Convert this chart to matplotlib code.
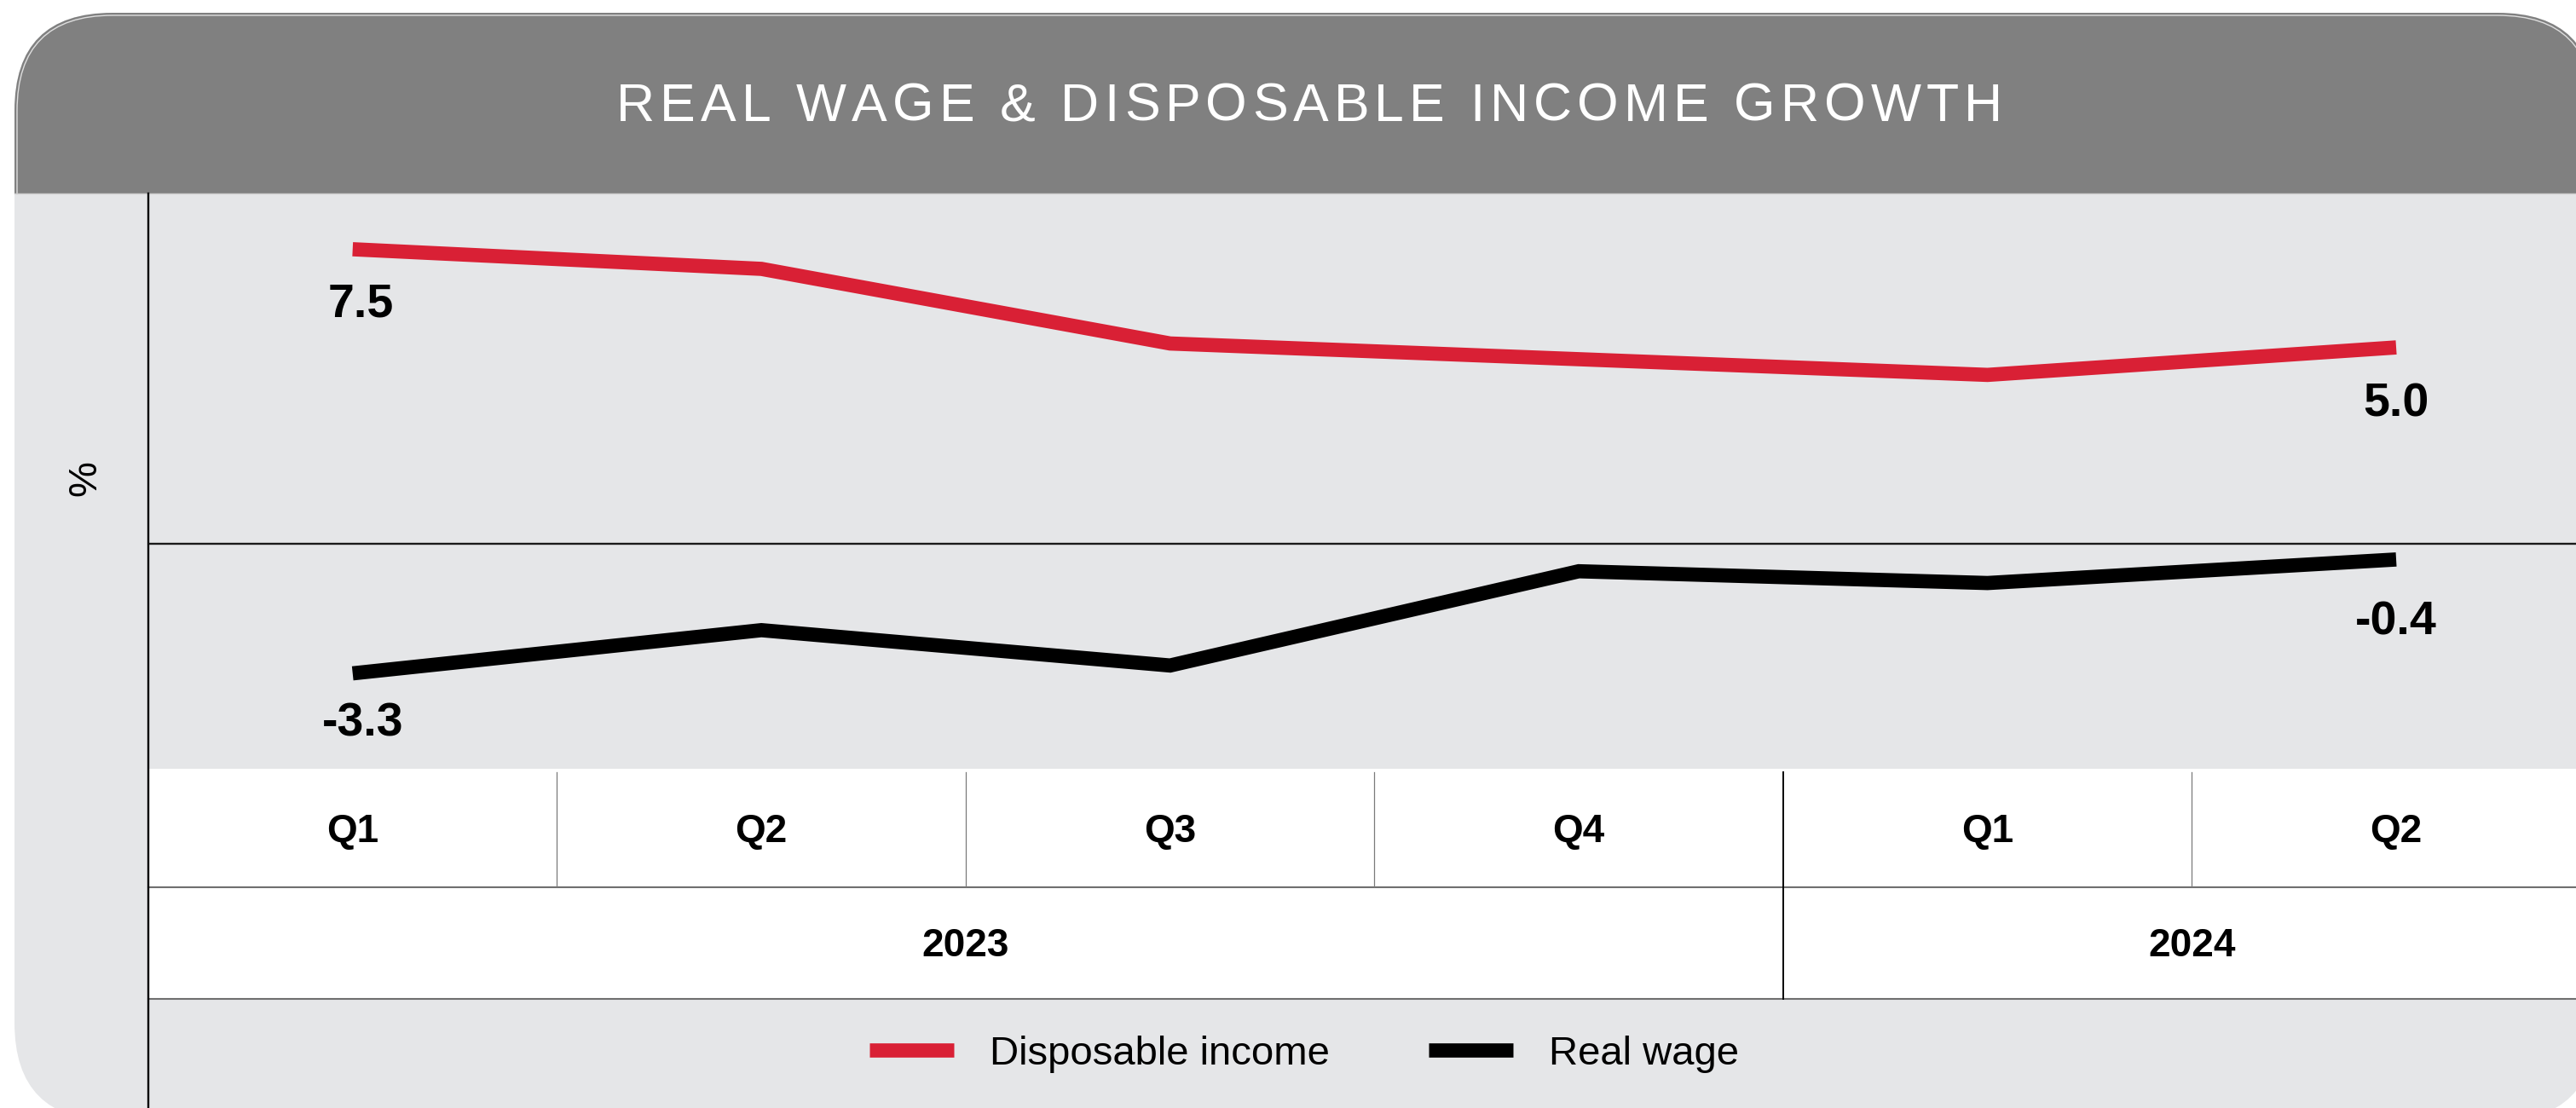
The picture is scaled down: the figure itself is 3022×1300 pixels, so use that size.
import numpy as np
import matplotlib
matplotlib.use("Agg")
import matplotlib.pyplot as plt
import matplotlib.transforms as mtransforms
from matplotlib.patches import FancyBboxPatch, Rectangle

# data
quarters = ["Q1", "Q2", "Q3", "Q4", "Q1", "Q2"]
years = ["2023", "2024"]
year_spans = [(0, 3), (4, 5)]
disposable_income = [7.5, 7.0, 5.1, 4.7, 4.3, 5.0]
real_wage = [-3.3, -2.2, -3.1, -0.7, -1.0, -0.4]
series_names = ["Disposable income", "Real wage"]
title = "REAL WAGE & DISPOSABLE INCOME GROWTH"
unit_label = "%"

W, H, DPI = 3022, 1300, 100
RED = "#d92035"
HEADER = "#808080"
PANEL = "#e5e6e8"

plt.rcParams["font.family"] = ["Liberation Sans", "DejaVu Sans"]

fig = plt.figure(figsize=(W / DPI, H / DPI), dpi=DPI)
fig.patch.set_facecolor("white")

# pixel canvas for the card, header band and category table
bg = fig.add_axes([0, 0, 1, 1])
bg.set_xlim(0, W)
bg.set_ylim(H, 0)
bg.set_axis_off()

card_box = dict(boxstyle="round,pad=0,rounding_size=115")
bg.add_patch(FancyBboxPatch((17, 15), 3028, 1300, fc=PANEL, ec="none", **card_box))
head_clip = Rectangle((0, 0), W, 227, transform=bg.transData)
header = FancyBboxPatch((17, 15), 3028, 1300, fc=HEADER, ec="none", **card_box)
bg.add_patch(header)
header.set_clip_path(head_clip)
rim = FancyBboxPatch((20, 18), 3022, 1294, fc="none", ec="#dedede", lw=1.0,
                     boxstyle="round,pad=0,rounding_size=112")
bg.add_patch(rim)
rim.set_clip_path(head_clip)
bg.plot([17, W], [227, 227], color="#cdcdcd", lw=1.0)

# table body under the plot
bg.add_patch(Rectangle((174, 902), W - 174, 270, fc="white", ec="none"))
for yy in (1041, 1172):
    bg.plot([174, W], [yy, yy], color="#6f6f6f", lw=1.5)

# main plot area
ax = fig.add_axes([174 / W, 1 - 902 / H, (W - 174) / W, (902 - 227) / H])
ax.set_xlim(-0.5, 5.44)
ax.set_ylim(-5.73, 8.92)
ax.set_axis_off()

x = np.arange(len(quarters))
ax.axhline(0, color="#1a1a1a", lw=1.7, zorder=1)
l1, = ax.plot(x, disposable_income, color=RED, lw=12, solid_capstyle="butt",
              solid_joinstyle="miter", label=series_names[0], zorder=3)
l2, = ax.plot(x, real_wage, color="black", lw=12, solid_capstyle="butt",
              solid_joinstyle="miter", label=series_names[1], zorder=3)

# end-point value labels (offsets in pixels, to the text baseline)
label_offsets = {
    (0, 0): (10, -79), (0, 5): (0, -81),
    (1, 0): (12, -73), (1, 5): (0, -88),
}
for (s, i), (dx, dy) in label_offsets.items():
    v = [disposable_income, real_wage][s][i]
    ax.annotate(f"{v:.1f}", (x[i], v), xytext=(dx, dy), textcoords="offset pixels",
                ha="center", va="baseline", fontsize=40, fontweight="bold")

# left axis line running down through the table
bg.plot([174, 174], [227, H], color="black", lw=1.7, zorder=5)

fig.text(100 / W, 1 - 561 / H, unit_label, rotation=90, fontsize=34,
         ha="center", va="center")

# category table: quarter row and year row, aligned to the data x scale
trans = mtransforms.blended_transform_factory(ax.transData, bg.transData)
for i, q in enumerate(quarters):
    bg.text(i, 988, q, transform=trans, ha="center", va="baseline",
            fontsize=33, fontweight="bold")
year_breaks = [e + 0.5 for _, e in year_spans[:-1]]
for b in np.arange(0.5, len(quarters) - 0.5):
    if b in year_breaks:
        continue
    bg.plot([b, b], [906, 1040], transform=trans, color="#7a7a7a", lw=0.9)
for b in year_breaks:
    bg.plot([b, b], [906, 1172], transform=trans, color="black", lw=1.4)
for yr, (s, e) in zip(years, year_spans):
    bg.text((s + e) / 2, 1122, yr, transform=trans, ha="center", va="baseline",
            fontsize=33, fontweight="bold")


def tracked_text(x0, baseline, text, width_px, **kw):
    """Draw text letter by letter, spread to a given width."""
    renderer = fig.canvas.get_renderer()
    widths = []
    for ch in text:
        if ch == " ":
            widths.append(None)
            continue
        t = bg.text(0, 0, ch, **kw)
        widths.append(t.get_window_extent(renderer).width)
        t.remove()
    space = 0.28 * kw["fontsize"] * DPI / 72
    ink = sum(w for w in widths if w) + space * text.count(" ")
    gap = (width_px - ink) / (len(text) - 1)
    pos = x0
    for ch, w in zip(text, widths):
        if w is None:
            pos += space + gap
            continue
        bg.text(pos, baseline, ch, ha="left", va="baseline", **kw)
        pos += w + gap


tracked_text(723, 142, title, 1626, fontsize=45, color="white")

fig.legend(handles=[l1, l2], labels=series_names, loc="center",
           bbox_to_anchor=(1530 / W, 1 - 1237 / H), ncol=2, frameon=False,
           fontsize=34, handlelength=2.1, handletextpad=0.9, columnspacing=2.45)

fig.savefig("out.png", dpi=DPI, facecolor="white")
